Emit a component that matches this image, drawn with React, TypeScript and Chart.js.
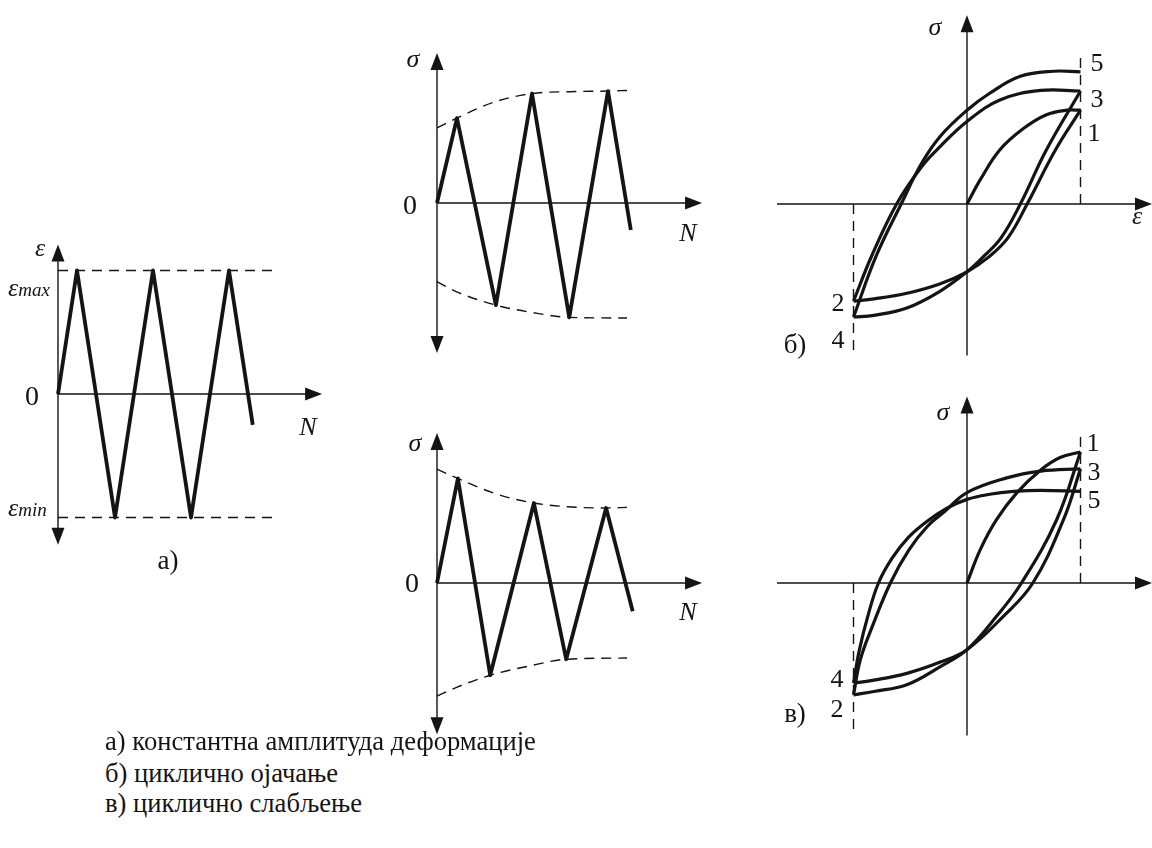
import React, { useEffect, useRef } from "react";
import { Chart, registerables } from "chart.js";

Chart.register(...registerables);

// ---------------- data ----------------

// а) strain-controlled loading history ε(N)
const strainN = [0, 1, 3, 5, 7, 9, 10.25];
const strainEps = [0, 1, -1, 1, -1, 1, -0.25];
const strainMax = 1;
const strainMin = -1;
const strainGuideN = [0, 11.6];

// б) stress response under cyclic hardening σ(N)
const hardN = [0, 1.05, 3.1, 5.0, 6.96, 9.0, 10.2];
const hardSigma = [0, 0.69, -0.83, 0.89, -0.93, 0.91, -0.22];
const hardUpperN = [0, 1.05, 3, 5.0, 7, 9.0, 10];
const hardUpper = [0.61, 0.69, 0.82, 0.89, 0.905, 0.91, 0.915];
const hardLowerN = [0, 1, 3.1, 5, 6.96, 10];
const hardLower = [-0.64, -0.72, -0.83, -0.89, -0.93, -0.935];

// в) stress response under cyclic softening σ(N)
const softN = [0, 1.1, 2.8, 5.1, 6.8, 8.9, 10.3];
const softSigma = [0, 0.85, -0.75, 0.65, -0.62, 0.61, -0.23];
const softUpperN = [0, 1.1, 3, 5.1, 8.9, 10];
const softUpper = [0.925, 0.85, 0.73, 0.65, 0.61, 0.615];
const softLowerN = [0, 1, 2.8, 5, 6.8, 10];
const softLower = [-0.92, -0.85, -0.75, -0.67, -0.62, -0.61];

// б) hysteresis loops σ(ε), cyclic hardening
const hLoad01Eps = [0, 0.117, 0.29, 0.5, 0.7, 0.88, 1];
const hLoad01Sig = [0, 0.215, 0.48, 0.67, 0.79, 0.83, 0.83];
const hBranch12Eps = [1, 0.78, 0.53, 0.36, 0.19, 0, -0.235, -0.53, -0.82, -1];
const hBranch12Sig = [0.83, 0.48, 0, -0.3, -0.47, -0.6, -0.705, -0.79, -0.84, -0.86];
const hBranch23Eps = [-1, -0.84, -0.62, -0.4, -0.235, 0, 0.29, 0.65, 1];
const hBranch23Sig = [-0.86, -0.46, 0, 0.33, 0.51, 0.73, 0.92, 1.005, 1.0];
const hBranch34Eps = [1, 0.7, 0.47, 0.3, 0.14, 0, -0.235, -0.53, -0.82, -1];
const hBranch34Sig = [1.0, 0.48, 0, -0.3, -0.47, -0.6, -0.77, -0.92, -0.985, -1.0];
const hBranch45Eps = [-1, -0.8, -0.58, -0.4, -0.235, 0, 0.2, 0.47, 0.76, 1];
const hBranch45Sig = [-1.0, -0.46, 0, 0.36, 0.6, 0.83, 0.98, 1.13, 1.175, 1.17];

// в) hysteresis loops σ(ε), cyclic softening
const sLoad01Eps = [0, 0.117, 0.26, 0.44, 0.65, 0.82, 1];
const sLoad01Sig = [0, 0.295, 0.56, 0.8, 1.0, 1.11, 1.16];
const sBranch12Eps = [1, 0.79, 0.48, 0.26, 0, -0.235, -0.53, -0.82, -1];
const sBranch12Sig = [1.16, 0.56, 0, -0.295, -0.59, -0.74, -0.9, -0.96, -0.99];
const sBranch23Eps = [-1, -0.94, -0.84, -0.675, -0.51, -0.35, -0.2, 0, 0.35, 0.65, 1];
const sBranch23Sig = [-0.99, -0.68, -0.4, 0, 0.295, 0.5, 0.63, 0.8, 0.93, 0.99, 1.01];
const sBranch34Eps = [1, 0.85, 0.58, 0.32, 0, -0.235, -0.53, -0.82, -1];
const sBranch34Sig = [1.01, 0.56, 0, -0.295, -0.59, -0.7, -0.8, -0.86, -0.885];
const sBranch45Eps = [-1, -0.95, -0.87, -0.78, -0.66, -0.52, -0.36, -0.18, 0, 0.2, 0.41, 0.65, 1];
const sBranch45Sig = [-0.885, -0.6, -0.28, 0, 0.22, 0.4, 0.54, 0.66, 0.74, 0.785, 0.81, 0.82, 0.81];

// strain limits of the σ–ε plots
const epsLimits = [-1, 1];

// ---------------- drawing ----------------

const INK = "#141414";
const FONT = "'Liberation Serif', 'Times New Roman', Tinos, 'DejaVu Serif', serif";

type Kind = "bold" | "curve" | "dash" | "guide";
type Series = { xs: number[]; ys: number[]; kind: Kind };

type PanelSpec = {
  left: number;
  top: number;
  width: number;
  height: number;
  ox: number; // page pixel of x = 0
  oy: number; // page pixel of y = 0
  ux: number; // pixels per x unit
  uy: number; // pixels per y unit
  xAxis: [number, number];
  yAxis: [number, number];
  arrowDown: boolean;
  series: Series[];
};

const S = (xs: number[], ys: number[], kind: Kind): Series => ({ xs, ys, kind });

const PANELS: PanelSpec[] = [
  {
    left: 0, top: 235, width: 345, height: 325,
    ox: 58, oy: 394, ux: 19, uy: 123.5,
    xAxis: [0, 13.9], yAxis: [-1.22, 1.21], arrowDown: true,
    series: [
      S(strainGuideN, [strainMax, strainMax], "guide"),
      S(strainGuideN, [strainMin, strainMin], "guide"),
      S(strainN, strainEps, "bold"),
    ],
  },
  {
    left: 380, top: 40, width: 340, height: 330,
    ox: 437, oy: 203, ux: 19, uy: 123,
    xAxis: [0, 13.95], yAxis: [-1.22, 1.22], arrowDown: true,
    series: [
      S(hardUpperN, hardUpper, "dash"),
      S(hardLowerN, hardLower, "dash"),
      S(hardN, hardSigma, "bold"),
    ],
  },
  {
    left: 380, top: 420, width: 340, height: 330,
    ox: 437, oy: 583, ux: 19, uy: 123,
    xAxis: [0, 13.95], yAxis: [-1.23, 1.22], arrowDown: true,
    series: [
      S(softUpperN, softUpper, "dash"),
      S(softLowerN, softLower, "dash"),
      S(softN, softSigma, "bold"),
    ],
  },
  {
    left: 760, top: 0, width: 392, height: 370,
    ox: 967, oy: 204, ux: 113.5, uy: 113,
    xAxis: [-1.674, 1.63], yAxis: [-1.34, 1.67], arrowDown: false,
    series: [
      S([epsLimits[1], epsLimits[1]], [0, 1.34], "guide"),
      S([epsLimits[0], epsLimits[0]], [0, -1.34], "guide"),
      S(hLoad01Eps, hLoad01Sig, "curve"),
      S(hBranch12Eps, hBranch12Sig, "curve"),
      S(hBranch23Eps, hBranch23Sig, "curve"),
      S(hBranch34Eps, hBranch34Sig, "curve"),
      S(hBranch45Eps, hBranch45Sig, "curve"),
    ],
  },
  {
    left: 760, top: 385, width: 392, height: 365,
    ox: 967, oy: 583, ux: 113.5, uy: 113,
    xAxis: [-1.674, 1.63], yAxis: [-1.35, 1.65], arrowDown: false,
    series: [
      S([epsLimits[1], epsLimits[1]], [0, 1.33], "guide"),
      S([epsLimits[0], epsLimits[0]], [0, -1.35], "guide"),
      S(sLoad01Eps, sLoad01Sig, "curve"),
      S(sBranch12Eps, sBranch12Sig, "curve"),
      S(sBranch23Eps, sBranch23Sig, "curve"),
      S(sBranch34Eps, sBranch34Sig, "curve"),
      S(sBranch45Eps, sBranch45Sig, "curve"),
    ],
  },
];

function toDataset(s: Series) {
  const data = s.xs.map((x, i) => ({ x, y: s.ys[i] }));
  const base: any = {
    data,
    showLine: true,
    pointRadius: 0,
    pointHoverRadius: 0,
    borderColor: INK,
    backgroundColor: INK,
    fill: false,
  };
  if (s.kind === "bold") {
    return { ...base, borderWidth: 3.8, tension: 0, borderJoinStyle: "round", borderCapStyle: "butt" };
  }
  if (s.kind === "curve") {
    return { ...base, borderWidth: 3.2, tension: 0.4, borderCapStyle: "butt" };
  }
  if (s.kind === "dash") {
    return { ...base, borderWidth: 1.4, borderDash: [10, 7], cubicInterpolationMode: "monotone" };
  }
  return { ...base, borderWidth: 1.4, borderDash: [10, 7], tension: 0 };
}

function arrowHead(ctx: CanvasRenderingContext2D, x: number, y: number, dir: "up" | "down" | "right") {
  const len = 17;
  const half = 6.5;
  ctx.beginPath();
  if (dir === "right") {
    ctx.moveTo(x, y);
    ctx.lineTo(x - len, y - half);
    ctx.lineTo(x - len, y + half);
  } else if (dir === "up") {
    ctx.moveTo(x, y);
    ctx.lineTo(x - half, y + len);
    ctx.lineTo(x + half, y + len);
  } else {
    ctx.moveTo(x, y);
    ctx.lineTo(x - half, y - len);
    ctx.lineTo(x + half, y - len);
  }
  ctx.closePath();
  ctx.fill();
}

function axesPlugin(spec: PanelSpec) {
  return {
    id: "arrowAxes",
    beforeDatasetsDraw(chart: any) {
      const { ctx } = chart;
      const xs = chart.scales.x;
      const ys = chart.scales.y;
      const px = (v: number) => xs.getPixelForValue(v);
      const py = (v: number) => ys.getPixelForValue(v);
      const x0 = px(0);
      const y0 = py(0);
      ctx.save();
      ctx.strokeStyle = INK;
      ctx.fillStyle = INK;
      ctx.lineWidth = 1.4;
      ctx.beginPath();
      ctx.moveTo(px(spec.xAxis[0]), y0);
      ctx.lineTo(px(spec.xAxis[1]) - 6, y0);
      ctx.moveTo(x0, py(spec.yAxis[0]) - (spec.arrowDown ? 6 : 0));
      ctx.lineTo(x0, py(spec.yAxis[1]) + 6);
      ctx.stroke();
      arrowHead(ctx, px(spec.xAxis[1]), y0, "right");
      arrowHead(ctx, x0, py(spec.yAxis[1]), "up");
      if (spec.arrowDown) arrowHead(ctx, x0, py(spec.yAxis[0]), "down");
      ctx.restore();
    },
  };
}

function Panel({ spec }: { spec: PanelSpec }) {
  const ref = useRef<HTMLCanvasElement>(null);
  useEffect(() => {
    const canvas = ref.current;
    if (!canvas) return;
    const xMin = (spec.left - spec.ox) / spec.ux;
    const xMax = (spec.left + spec.width - spec.ox) / spec.ux;
    const yMax = (spec.oy - spec.top) / spec.uy;
    const yMin = (spec.oy - spec.top - spec.height) / spec.uy;
    const chart = new Chart(canvas, {
      type: "scatter",
      data: { datasets: spec.series.map(toDataset) },
      options: {
        animation: false,
        responsive: false,
        maintainAspectRatio: false,
        devicePixelRatio: 1,
        events: [],
        layout: { padding: 0 },
        plugins: { legend: { display: false }, tooltip: { enabled: false } },
        scales: {
          x: { type: "linear", display: false, bounds: "data", min: xMin, max: xMax },
          y: { type: "linear", display: false, bounds: "data", min: yMin, max: yMax },
        },
      } as any,
      plugins: [axesPlugin(spec)],
    });
    return () => chart.destroy();
  }, [spec]);
  return (
    <canvas
      ref={ref}
      width={spec.width}
      height={spec.height}
      style={{ position: "absolute", left: spec.left, top: spec.top, width: spec.width, height: spec.height }}
    />
  );
}

// ---------------- text ----------------

type Label = { t: string; x: number; y: number; size?: number; italic?: boolean; lower?: boolean };

const LABELS: Label[] = [
  // а)
  { t: "ε", x: 40, y: 251, italic: true, lower: true },
  { t: "0", x: 32, y: 396, size: 28 },
  { t: "N", x: 308, y: 427, italic: true },
  { t: "а)", x: 168, y: 560, size: 27 },
  // б) σ(N)
  { t: "σ", x: 413, y: 62, italic: true, lower: true },
  { t: "0", x: 410, y: 205, size: 28 },
  { t: "N", x: 688, y: 233, italic: true },
  // в) σ(N)
  { t: "σ", x: 415, y: 446, italic: true, lower: true },
  { t: "0", x: 412, y: 583, size: 28 },
  { t: "N", x: 688, y: 612, italic: true },
  // б) σ(ε)
  { t: "σ", x: 935, y: 30, italic: true, lower: true },
  { t: "ε", x: 1137, y: 219, italic: true, lower: true },
  { t: "5", x: 1097, y: 63 },
  { t: "3", x: 1097, y: 99 },
  { t: "1", x: 1094, y: 133 },
  { t: "2", x: 838, y: 303 },
  { t: "4", x: 838, y: 340 },
  { t: "б)", x: 795, y: 344, size: 27 },
  // в) σ(ε)
  { t: "σ", x: 943, y: 415, italic: true, lower: true },
  { t: "1", x: 1093, y: 443 },
  { t: "3", x: 1094, y: 472 },
  { t: "5", x: 1094, y: 500 },
  { t: "4", x: 837, y: 679 },
  { t: "2", x: 837, y: 709 },
  { t: "в)", x: 795, y: 713, size: 27 },
];

const CAPTIONS = [
  "а) константна амплитуда деформације",
  "б) циклично ојачање",
  "в) циклично слабљење",
];
const CAPTION_LEFT = 105;
const CAPTION_BASELINES = [750, 782, 812];
const CAPTION_SIZE = 26.6;

function TextLabel({ l }: { l: Label }) {
  const size = l.size ?? 26;
  const shift = l.lower ? -0.1 * size : 0;
  return (
    <div
      style={{
        position: "absolute",
        left: l.x,
        top: l.y + shift,
        transform: "translate(-50%, -50%)",
        fontSize: size,
        lineHeight: 1,
        fontStyle: l.italic ? "italic" : "normal",
        whiteSpace: "nowrap",
      }}
    >
      {l.t}
    </div>
  );
}

function SubLabel({ base, sub, left, baseline }: { base: string; sub: string; left: number; baseline: number }) {
  return (
    <div
      style={{
        position: "absolute",
        left,
        top: baseline - 22,
        fontSize: 26,
        lineHeight: "26px",
        fontStyle: "italic",
        whiteSpace: "nowrap",
      }}
    >
      {base}
      <span style={{ fontSize: 19 }}>{sub}</span>
    </div>
  );
}

export default function App() {
  return (
    <div
      style={{
        position: "absolute",
        left: 0,
        top: 0,
        width: 1152,
        height: 848,
        overflow: "hidden",
        background: "#ffffff",
        color: INK,
        fontFamily: FONT,
      }}
    >
      {PANELS.map((p, i) => (
        <Panel key={i} spec={p} />
      ))}
      {LABELS.map((l, i) => (
        <TextLabel key={i} l={l} />
      ))}
      <SubLabel base="ε" sub="max" left={8} baseline={297} />
      <SubLabel base="ε" sub="min" left={8} baseline={517} />
      {CAPTIONS.map((c, i) => (
        <div
          key={i}
          style={{
            position: "absolute",
            left: CAPTION_LEFT,
            top: CAPTION_BASELINES[i] - Math.round(CAPTION_SIZE * 0.835),
            fontSize: CAPTION_SIZE,
            lineHeight: 1,
            whiteSpace: "nowrap",
          }}
        >
          {c}
        </div>
      ))}
    </div>
  );
}
